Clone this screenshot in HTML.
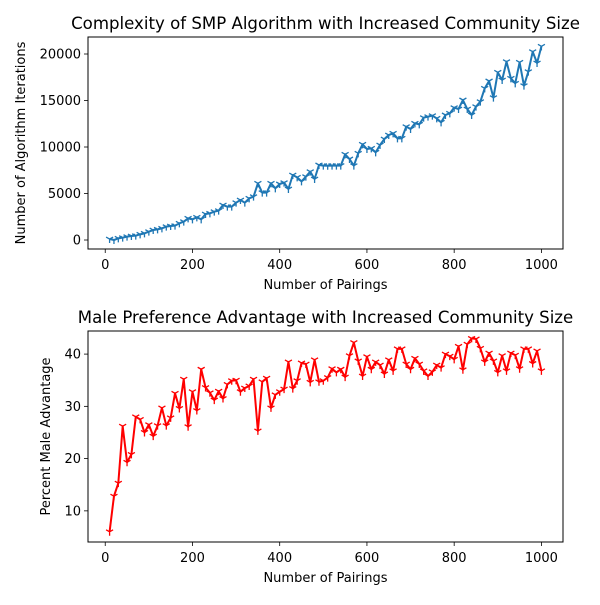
<!DOCTYPE html>
<html><head><meta charset="utf-8"><style>
body{margin:0;background:#fff}
svg text{font-family:"DejaVu Sans","Liberation Sans",sans-serif;fill:#000}
</style></head><body>
<svg id="fig" width="600" height="600" xmlns="http://www.w3.org/2000/svg">
<rect width="600" height="600" fill="#fff"/>
</svg>
<script>
const pairings = [];
for (let i = 1; i <= 100; i++) pairings.push(i * 10);
const iterations = [108,0,179,251,358,430,466,609,717,896,1075,1147,1254,1434,1505,1541,1792,1971,2330,2222,2437,2222,2796,2867,3047,3154,3763,3584,3584,4014,4301,4014,4480,4659,6093,5090,5090,6093,5556,6022,6165,5484,6989,6738,6300,6810,7348,6559,8065,8000,7990,8000,8000,8000,9211,8710,7993,9319,10287,9785,9857,9427,10215,10860,11290,11470,10932,10932,12186,11935,12545,12437,13154,13262,13369,13082,12652,13441,13620,14229,14086,15054,14086,13441,14337,14875,16308,17097,15305,18029,17204,19176,17384,16846,19104,16595,18100,20251,19032,20824];
const advantage = [6.0,12.8,15.3,26.2,19.3,20.8,28,27.5,25,26.5,24.3,26.3,29.7,26.3,27.8,32.5,29.6,35.2,26.1,32.8,29.2,37.1,33.6,32.6,31.2,32.9,31.5,34.2,34.9,35,32.8,33.5,33.9,35.2,25.3,34.7,35.4,29.7,32.2,32.8,33.3,38.5,33.4,34.9,38.3,38.1,34.6,38.9,34.7,34.9,35.5,37.2,36.5,37.1,35.6,39.7,42.2,38.7,35.8,39.5,37.1,38.5,37.9,36.2,38.9,36.8,41,41,38.1,37.1,39.2,38.1,36.8,35.8,36.6,37.9,37.4,40,39.6,39,41.5,37,41.9,43,42.9,41.1,38.5,40.2,38.7,36.5,39.7,36.8,40.2,39.8,37.2,41,41,38.2,40.6,36.8];
const xTicks = [0,200,400,600,800,1000];
const topYTicks = [0,5000,10000,15000,20000];
const botYTicks = [10,20,30,40];

const NS = "http://www.w3.org/2000/svg";
const svg = document.getElementById('fig');
function mk(tag, attrs, parent){const e=document.createElementNS(NS,tag);for(const k in attrs)e.setAttribute(k,attrs[k]);(parent||svg).appendChild(e);return e;}
const X0=88, X1=563;
function xScale(v){return X0 + (v + 39.5) / 1089 * (X1 - X0);}

function panel(cfg){
  const g = mk('g',{});
  
  
  const yS = v => cfg.y1 - (v - cfg.d0) / (cfg.d1 - cfg.d0) * (cfg.y1 - cfg.y0);
  let d = '';
  pairings.forEach((x,i)=>{ d += (i?'L':'M') + xScale(x).toFixed(2) + ' ' + yS(cfg.vals[i]).toFixed(2); });
  const line = mk('path',{d:d,fill:'none',stroke:cfg.color,'stroke-width':2,'stroke-linejoin':'round'},g);
  
  
  let md='';
  pairings.forEach((x,i)=>{const cx=xScale(x), cy=yS(cfg.vals[i]);
    md+=`M${cx} ${cy}L${cx} ${cy+4}M${cx} ${cy}L${cx-3.5} ${cy-2}M${cx} ${cy}L${cx+3.5} ${cy-2}`;});
  const mp = mk('path',{d:md,fill:'none',stroke:cfg.color,'stroke-width':1.3},g);
  
  
  const fr = mk('rect',{x:X0,y:cfg.y0,width:X1-X0,height:cfg.y1-cfg.y0,fill:'none',stroke:'#000','stroke-width':1},g);
  
  
  xTicks.forEach(t=>{const px=xScale(t);
    mk('line',{x1:px,x2:px,y1:cfg.y1,y2:cfg.y1+4,stroke:'#000','stroke-width':0.8},g);
    const tx = mk('text',{x:px,y:cfg.y1+20,'text-anchor':'middle','font-size':13},g);
    tx.textContent = t;
    
    
  });
  cfg.yTicks.forEach(t=>{const py=yS(t);
    mk('line',{x1:X0-4,x2:X0,y1:py,y2:py,stroke:'#000','stroke-width':0.8},g);
    const tx = mk('text',{x:X0-7,y:py+4.5,'text-anchor':'end','font-size':13},g);
    tx.textContent = t;
    
    
  });
  const title = mk('text',{x:(X0+X1)/2,y:cfg.y0-8,'text-anchor':'middle','font-size':16.6},g);
  title.textContent = cfg.title;
  
  
  const xl = mk('text',{x:(X0+X1)/2,y:cfg.y1+40,'text-anchor':'middle','font-size':13},g);
  xl.textContent = 'Number of Pairings';
  
  
  const yc=(cfg.y0+cfg.y1)/2;
  const yl = mk('text',{x:cfg.ylx,y:yc,'text-anchor':'middle','font-size':13,transform:`rotate(-90 ${cfg.ylx} ${yc})`},g);
  yl.textContent = cfg.ylabel;
  
  
}
panel({name:'iterations-chart',vals:iterations,color:'#1f77b4',y0:37,y1:249,d0:-967,d1:21828,yTicks:topYTicks,
  title:'Complexity of SMP Algorithm with Increased Community Size',ylabel:'Number of Algorithm Iterations',ylx:25});
panel({name:'advantage-chart',vals:advantage,color:'#ff0000',y0:331,y1:542,d0:4.04,d1:44.42,yTicks:botYTicks,
  title:'Male Preference Advantage with Increased Community Size',ylabel:'Percent Male Advantage',ylx:50});
</script>
</body></html>
